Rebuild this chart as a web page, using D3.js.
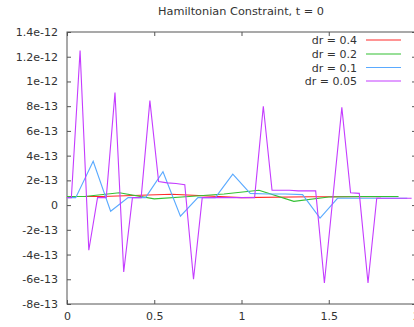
<!DOCTYPE html>
<html>
<head>
<meta charset="utf-8">
<script src="https://cdn.jsdelivr.net/npm/d3@7"></script>
<style>
  html, body { margin: 0; padding: 0; background: #fff; }
  svg { display: block; }
  text { font-family: "DejaVu Sans", sans-serif; fill: #333; }
</style>
</head>
<body>
<svg id="chart" width="414" height="327"></svg>
<script>
// ---- data (values in units of 1e-13) ----
const title = "Hamiltonian Constraint, t = 0";
const seriesNames = ["dr = 0.4", "dr = 0.2", "dr = 0.1", "dr = 0.05"];
const seriesColors = ["#ff2a2a", "#33c033", "#5aaaff", "#c43cff"];

const xDr04 = [0, 0.2, 0.6, 1.0, 1.4, 1.8];
const yDr04 = [0.7, 0.7, 0.88, 0.6, 0.68, 0.68];

const xDr02 = [0, 0.1, 0.3, 0.5, 0.7, 0.9, 1.1, 1.3, 1.5, 1.7, 1.9];
const yDr02 = [0.7, 0.7, 1.0, 0.5, 0.7, 0.9, 1.2, 0.3, 0.65, 0.7, 0.7];

const xDr01 = [0, 0.05, 0.15, 0.25, 0.35, 0.45, 0.55, 0.65, 0.75, 0.85, 0.95, 1.05, 1.15, 1.25, 1.35, 1.45, 1.55, 1.65, 1.75, 1.85, 1.95];
const yDr01 = [0.6, 0.6, 3.55, -0.5, 0.6, 0.6, 2.7, -0.9, 0.6, 0.6, 2.5, 0.95, 0.9, 0.9, 0.85, -1.05, 0.55, 0.55, 0.55, 0.55, 0.55];

const xDr005 = [0, 0.025, 0.075, 0.125, 0.175, 0.225, 0.275, 0.325, 0.375, 0.425, 0.475, 0.525, 0.575, 0.625, 0.675, 0.725, 0.775, 0.825, 0.875, 0.925, 0.975, 1.025, 1.075, 1.125, 1.175, 1.225, 1.275, 1.325, 1.375, 1.425, 1.475, 1.525, 1.575, 1.625, 1.675, 1.725, 1.775, 1.825, 1.875, 1.925, 1.975];
const yDr005 = [0.6, 0.6, 12.5, -3.65, 0.6, 0.6, 9.1, -5.4, 0.6, 0.6, 8.45, 1.9, 1.8, 1.75, 1.65, -6.0, 0.6, 0.6, 0.6, 0.6, 0.6, 0.6, 0.6, 8.0, 1.2, 1.2, 1.2, 1.15, 1.15, 1.15, -6.3, 0.8, 7.9, 1.0, 0.95, -6.3, 0.55, 0.55, 0.55, 0.55, 0.55];

const xTicks = [0, 0.5, 1, 1.5, 2];
const xTickLabels = ["0", "0.5", "1", "1.5", "2"];
const yTicks = [-8, -6, -4, -2, 0, 2, 4, 6, 8, 10, 12, 14];
const yTickLabels = ["-8e-13", "-6e-13", "-4e-13", "-2e-13", "0", "2e-13", "4e-13", "6e-13", "8e-13", "1e-12", "1.2e-12", "1.4e-12"];

// ---- layout ----
const plotLeft = 67, plotRight = 416, plotTop = 32, plotBottom = 304;
const svg = d3.select("#chart");

const x = d3.scaleLinear().domain([0, 2]).range([plotLeft, plotRight]);
const y = d3.scaleLinear().domain([-8, 14]).range([plotBottom, plotTop]);

const series = [
  { xs: xDr04, ys: yDr04 },
  { xs: xDr02, ys: yDr02 },
  { xs: xDr01, ys: yDr01 },
  { xs: xDr005, ys: yDr005 }
];

// title
svg.append("text")
  .attr("x", 241).attr("y", 15)
  .attr("text-anchor", "middle")
  .style("font-size", "11.3px")
  .text(title);

// axes
const axisColor = "#555";
function styleAxis(g) {
  g.select(".domain").remove();
  g.selectAll(".tick line").attr("stroke", axisColor);
  g.selectAll(".tick text").style("font-size", "11px").attr("fill", "#333");
}

svg.append("g").attr("transform", `translate(${plotLeft},0)`)
  .call(d3.axisLeft(y).tickValues(yTicks).tickSize(-4).tickPadding(9)
    .tickFormat((d, i) => yTickLabels[i]))
  .call(styleAxis);

svg.append("g").attr("transform", `translate(${plotRight},0)`)
  .call(d3.axisRight(y).tickValues(yTicks).tickSize(-4).tickFormat(""))
  .call(styleAxis);

svg.append("g").attr("transform", `translate(0,${plotBottom})`)
  .call(d3.axisBottom(x).tickValues(xTicks).tickSize(-4).tickPadding(8)
    .tickFormat((d, i) => xTickLabels[i]))
  .call(styleAxis);

svg.append("g").attr("transform", `translate(0,${plotTop})`)
  .call(d3.axisTop(x).tickValues(xTicks).tickSize(-4).tickFormat(""))
  .call(styleAxis);

// border
svg.append("rect")
  .attr("x", plotLeft).attr("y", plotTop)
  .attr("width", plotRight - plotLeft).attr("height", plotBottom - plotTop)
  .attr("fill", "none").attr("stroke", axisColor).attr("stroke-width", 1);

// lines
const line = d3.line().x(d => x(d[0])).y(d => y(d[1]));
series.forEach((s, i) => {
  const pts = s.xs.map((xv, j) => [xv, s.ys[j]]);
  svg.append("path")
    .datum(pts)
    .attr("d", line)
    .attr("fill", "none")
    .attr("stroke", seriesColors[i])
    .attr("stroke-width", 1.1);
});

// legend
const legendRowY = [40, 54, 67.5, 81];
seriesNames.forEach((name, i) => {
  const ly = legendRowY[i];
  svg.append("text")
    .attr("x", 357).attr("y", ly + 4)
    .attr("text-anchor", "end")
    .style("font-size", "11px")
    .text(name);
  svg.append("line")
    .attr("x1", 366).attr("x2", 401)
    .attr("y1", ly).attr("y2", ly)
    .attr("stroke", seriesColors[i])
    .attr("stroke-width", 1.1);
});
</script>
</body>
</html>
